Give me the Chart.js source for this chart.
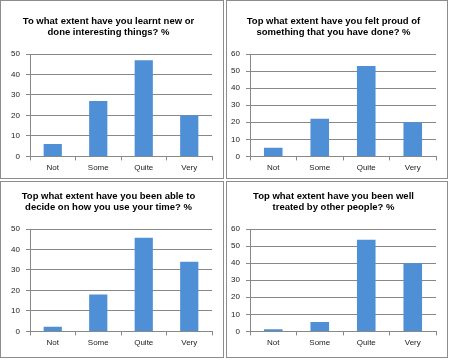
<!DOCTYPE html>
<html>
<head>
<meta charset="UTF-8">
<script src="https://cdn.jsdelivr.net/npm/chart.js"></script>
<style>
  body { margin: 0; background: #fff; width: 451px; height: 360px; position: relative; overflow: hidden; }
  .panel { position: absolute; border: 1px solid #8c8c8c; box-sizing: border-box; background: #fff; }
  .panel canvas { display: block; }
</style>
</head>
<body>
<div class="panel" style="left:0px;top:0px;width:224px;height:179px"><canvas id="c1"></canvas></div>
<div class="panel" style="left:226px;top:0px;width:222px;height:179px"><canvas id="c2"></canvas></div>
<div class="panel" style="left:0px;top:181px;width:224px;height:177px"><canvas id="c3"></canvas></div>
<div class="panel" style="left:226px;top:181px;width:222px;height:177px"><canvas id="c4"></canvas></div>
<script>
// answer categories
const categories = ['Not', 'Some', 'Quite', 'Very'];

// % per chart
const learntValues = [6, 27, 47, 20];
const proudValues = [5, 22, 53, 20];
const timeValues = [2.3, 18, 45.7, 34];
const treatedValues = [1.2, 5.5, 53.7, 40];

const learntTitle = ['To what extent have you learnt new or', 'done interesting things? %'];
const proudTitle = ['Top what extent have you felt proud of', 'something that you have done? %'];
const timeTitle = ['Top what extent have you been able to', 'decide on how you use your time? %'];
const treatedTitle = ['Top what extent have you been well', 'treated by other people? %'];

const ticks50 = [0, 10, 20, 30, 40, 50];
const ticks60 = [0, 10, 20, 30, 40, 50, 60];

// w/h = panel box, axisW = room for y labels, top/bottom = title top pad, layout bottom pad
function makeChart(id, title, values, yTicks, w, h, axisW, top, bottom) {
    const canvas = document.getElementById(id);
    canvas.width = w - 2;
    canvas.height = h - 2;
    const yMax = yTicks[yTicks.length - 1];
    new Chart(canvas, {
        type: 'bar',
        data: {
            labels: categories,
            datasets: [{
                data: values,
                backgroundColor: '#4f8fd6',
                barPercentage: 0.8,
                categoryPercentage: 0.5
            }]
        },
        options: {
            responsive: false,
            animation: false,
            layout: { padding: { left: 4, right: 11, top: 0, bottom: bottom } },
            plugins: {
                legend: { display: false },
                tooltip: { enabled: false },
                title: {
                    display: true,
                    text: title,
                    color: '#000',
                    font: { family: 'Liberation Sans', size: 9.5, weight: 'bold', lineHeight: '11px' },
                    padding: { top: top, bottom: 16 }
                }
            },
            scales: {
                x: {
                    grid: { offset: true, drawOnChartArea: false, color: '#888', tickLength: 4 },
                    border: { color: '#888' },
                    ticks: { color: '#222', font: { family: 'Liberation Sans', size: 8 }, padding: 3 }
                },
                y: {
                    min: 0,
                    max: yMax,
                    afterBuildTicks: axis => { axis.ticks = yTicks.map(v => ({ value: v })); },
                    afterFit: axis => { axis.width = axisW; },
                    grid: { color: '#888', tickLength: 4 },
                    border: { color: '#888' },
                    ticks: { color: '#222', font: { family: 'Liberation Sans', size: 8 }, padding: 6 }
                }
            }
        }
    });
}

makeChart('c1', learntTitle, learntValues, ticks50, 224, 179, 25, 15, 2);
makeChart('c2', proudTitle, proudValues, ticks60, 222, 179, 19, 15, 2);
makeChart('c3', timeTitle, timeValues, ticks50, 224, 177, 25, 9, 6);
makeChart('c4', treatedTitle, treatedValues, ticks60, 222, 177, 19, 9, 6);
</script>
</body>
</html>
